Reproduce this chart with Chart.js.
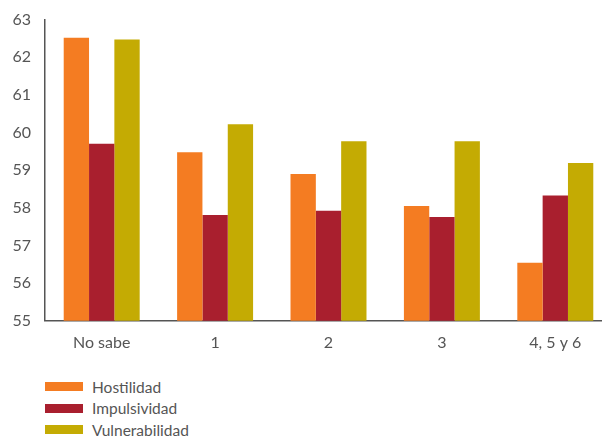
<!DOCTYPE html>
<html>
<head>
<meta charset="utf-8">
<script src="https://cdn.jsdelivr.net/npm/chart.js@4"></script>
<style>
  html, body { margin: 0; padding: 0; background: #fff; overflow: hidden; width: 602px; height: 436px; }
  #wrap { position: absolute; left: 0; top: -4px; width: 620px; height: 368px; }
  #legend { position: absolute; left: 45px; top: 376px; font-family: Lato, "Open Sans", sans-serif; font-size: 15.5px; color: #555; }
  .item { display: flex; align-items: center; height: 21.5px; }
  .box { width: 38px; height: 9px; margin-right: 9px; }
</style>
</head>
<body>
<div id="wrap"><canvas id="chart"></canvas></div>
<div id="legend"></div>
<script>
const categories = ['No sabe', '1', '2', '3', '4, 5 y 6'];
const seriesNames = ['Hostilidad', 'Impulsividad', 'Vulnerabilidad'];
const hostilidad = [62.52, 59.48, 58.9, 58.05, 56.54];
const impulsividad = [59.7, 57.81, 57.92, 57.76, 58.33];
const vulnerabilidad = [62.47, 60.22, 59.77, 59.77, 59.19];
const colors = ['#f47c22', '#a91f2e', '#c4ab03'];

const canvas = document.getElementById('chart');
canvas.width = 620;
canvas.height = 368;

new Chart(canvas, {
  type: 'bar',
  data: {
    labels: categories,
    datasets: [hostilidad, impulsividad, vulnerabilidad].map((vals, i) => ({
      label: seriesNames[i],
      data: vals,
      backgroundColor: colors[i],
      borderWidth: 0,
      barPercentage: 1,
      categoryPercentage: 0.67
    }))
  },
  options: {
    responsive: false,
    animation: false,
    layout: { padding: { top: 16, right: 8, left: 0, bottom: 0 } },
    plugins: { legend: { display: false }, tooltip: { enabled: false } },
    scales: {
      x: {
        grid: { display: false, drawTicks: false },
        border: { color: '#555', width: 1.5 },
        ticks: { color: '#555', font: { family: 'Lato', size: 16 }, padding: 12 }
      },
      y: {
        min: 55,
        max: 63,
        afterFit: s => { s.width = 45; },
        grid: { display: false, drawTicks: false },
        border: { color: '#555', width: 1.5 },
        ticks: { stepSize: 1, color: '#555', font: { family: 'Lato', size: 16 }, padding: 14 }
      }
    }
  }
});

const legend = document.getElementById('legend');
seriesNames.forEach((name, i) => {
  const row = document.createElement('div');
  row.className = 'item';
  row.innerHTML = '<span class="box" style="background:' + colors[i] + '"></span><span>' + name + '</span>';
  legend.appendChild(row);
});
</script>
</body>
</html>
